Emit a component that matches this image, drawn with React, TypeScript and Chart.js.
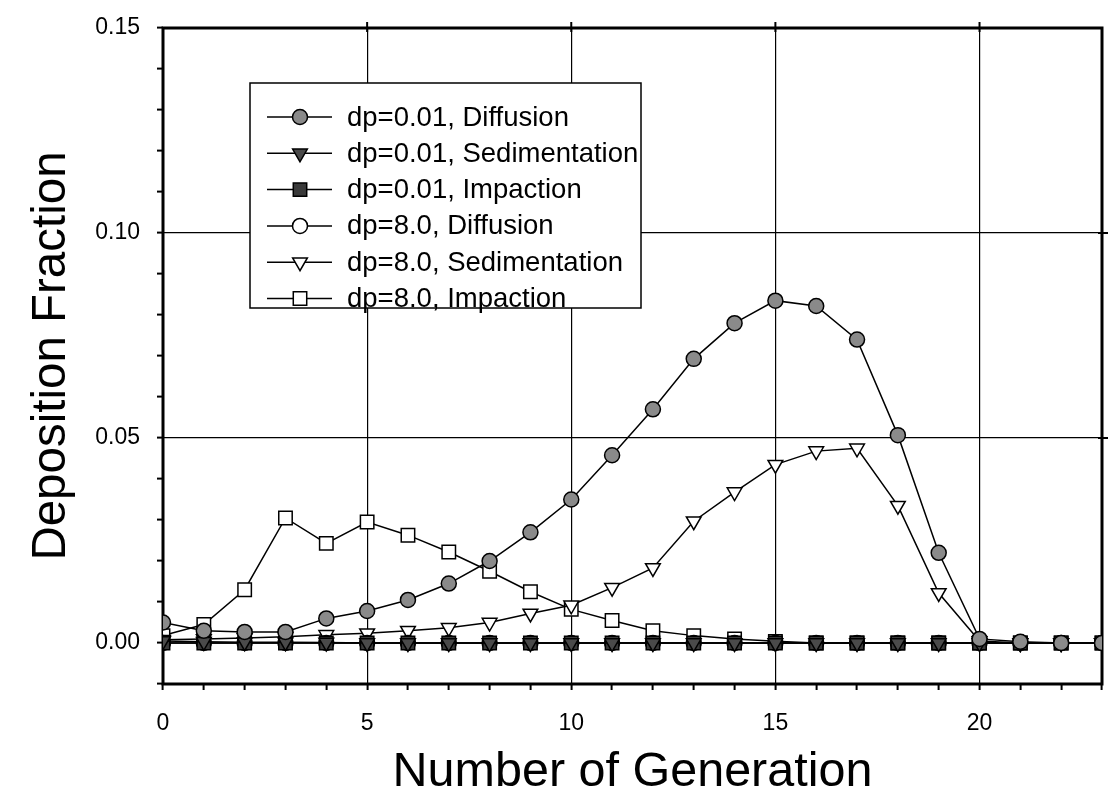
import React, { useEffect, useRef } from 'react';
import { Chart, registerables } from 'chart.js';
import { drawPoint } from 'chart.js/helpers';

Chart.register(...registerables);

const generations = [0, 1, 2, 3, 4, 5, 6, 7, 8, 9, 10, 11, 12, 13, 14, 15, 16, 17, 18, 19, 20, 21, 22, 23];

const diff001 = [0.005, 0.003, 0.0027, 0.0027, 0.006, 0.0078, 0.0105, 0.0145, 0.02, 0.027, 0.035, 0.0458, 0.057, 0.0693, 0.078, 0.0835, 0.0822, 0.074, 0.0507, 0.022, 0.001, 0.0003, 0, 0];
const sed001 = [0.0005, 0.0003, 0.0002, 0.0002, 0.0001, 0, 0, 0, 0, 0, 0, 0, 0, 0, 0, 0, 0, 0, 0, 0, 0, 0, 0, 0];
const imp001 = [0, 0, 0, 0, 0, 0, 0, 0, 0, 0, 0, 0, 0, 0, 0, 0, 0, 0, 0, 0, 0, 0, 0, 0];
const diff80 = [0, 0, 0, 0, 0, 0, 0, 0, 0, 0, 0, 0, 0, 0, 0, 0, 0, 0, 0, 0, 0, 0, 0, 0];
const sed80 = [0.0008, 0.001, 0.0012, 0.0015, 0.002, 0.0024, 0.003, 0.0037, 0.005, 0.0072, 0.0092, 0.0135, 0.0183, 0.0297, 0.0368, 0.0435, 0.0468, 0.0475, 0.0335, 0.0122, 0.0005, 0, 0, 0];
const imp80 = [0.0018, 0.0045, 0.013, 0.0305, 0.0243, 0.0295, 0.0263, 0.0222, 0.0175, 0.0125, 0.0082, 0.0055, 0.003, 0.0018, 0.001, 0.0004, 0, 0, 0, 0, 0, 0, 0, 0];

const seriesLabels = [
  'dp=0.01, Diffusion',
  'dp=0.01, Sedimentation',
  'dp=0.01, Impaction',
  'dp=8.0, Diffusion',
  'dp=8.0, Sedimentation',
  'dp=8.0, Impaction',
];

const yTickLabels = ['0.00', '0.05', '0.10', '0.15'];
const xTickLabels = ['0', '5', '10', '15', '20'];

const FONT = "'Liberation Sans', Arial, Helvetica, sans-serif";

const framePlugin = {
  id: 'frame',
  beforeDatasetsDraw(chart: any) {
    const { ctx, chartArea } = chart;
    const { left, right, top, bottom } = chartArea;
    ctx.save();
    ctx.strokeStyle = '#000';
    ctx.lineWidth = 3;
    ctx.strokeRect(left, top, right - left, bottom - top);
    ctx.lineWidth = 2;
    const xs = chart.scales.x;
    [5, 10, 15, 20].forEach((v) => {
      const px = xs.getPixelForValue(v);
      ctx.beginPath();
      ctx.moveTo(px, top - 6);
      ctx.lineTo(px, top + 4);
      ctx.stroke();
    });
    const ys = chart.scales.y;
    [0.05, 0.1].forEach((v) => {
      const py = ys.getPixelForValue(v);
      ctx.beginPath();
      ctx.moveTo(right - 4, py);
      ctx.lineTo(right + 6, py);
      ctx.stroke();
    });
    ctx.restore();
  },
};

const legendPlugin = {
  id: 'innerLegend',
  afterDraw(chart: any) {
    const { ctx } = chart;
    const bx = 250, by = 83, bw = 391, bh = 225;
    ctx.save();
    ctx.fillStyle = '#fff';
    ctx.fillRect(bx, by, bw, bh);
    ctx.strokeStyle = '#000';
    ctx.lineWidth = 1.5;
    ctx.strokeRect(bx, by, bw, bh);
    chart.data.datasets.forEach((ds: any, i: number) => {
      const y = by + 34 + i * 36.3;
      ctx.strokeStyle = '#000';
      ctx.lineWidth = 1.5;
      ctx.beginPath();
      ctx.moveTo(267, y);
      ctx.lineTo(332, y);
      ctx.stroke();
      ctx.fillStyle = ds.pointBackgroundColor;
      ctx.strokeStyle = '#000';
      ctx.lineWidth = ds.pointBorderWidth;
      drawPoint(ctx, { pointStyle: ds.pointStyle, rotation: ds.pointRotation || 0, radius: ds.pointRadius, borderWidth: ds.pointBorderWidth }, 300, y);
      ctx.fillStyle = '#000';
      ctx.font = `27.5px ${FONT}`;
      ctx.textBaseline = 'middle';
      ctx.textAlign = 'left';
      ctx.fillText(ds.label, 347, y + 1);
    });
    ctx.restore();
  },
};

function isMultiple(v: number, step: number) {
  const r = v / step;
  return Math.abs(r - Math.round(r)) < 1e-6;
}

export default function App() {
  const canvasRef = useRef<HTMLCanvasElement | null>(null);

  useEffect(() => {
    const canvas = canvasRef.current;
    if (!canvas) return;
    const mk = (i: number, data: number[], style: string, fill: string, radius: number, rotation = 0) => ({
      label: seriesLabels[i],
      data: generations.map((g, k) => ({ x: g, y: data[k] })),
      borderColor: '#000',
      borderWidth: 1.5,
      pointStyle: style,
      pointRotation: rotation,
      pointRadius: radius,
      pointBackgroundColor: fill,
      pointBorderColor: '#000',
      pointBorderWidth: 1.5,
      tension: 0,
      fill: false,
    });
    const chart = new Chart(canvas, {
      type: 'line',
      data: {
        datasets: [
          mk(0, diff001, 'circle', '#8a8a8a', 7.5),
          mk(1, sed001, 'triangle', '#4a4a4a', 8.5, 180),
          mk(2, imp001, 'rect', '#3a3a3a', 9.5),
          mk(3, diff80, 'circle', '#ffffff', 7.5),
          mk(4, sed80, 'triangle', '#ffffff', 8.5, 180),
          mk(5, imp80, 'rect', '#ffffff', 9.5),
        ] as any,
      },
      options: {
        animation: false,
        responsive: false,
        maintainAspectRatio: false,
        layout: { padding: { top: 28, right: 12, left: 0, bottom: 0 } },
        plugins: { legend: { display: false }, tooltip: { enabled: false } },
        scales: {
          x: {
            type: 'linear',
            min: 0,
            max: 23,
            afterFit: (s: any) => { s.height = 121; s.paddingRight = 0; s.paddingLeft = 0; },
            border: { display: false },
            grid: {
              color: (c: any) => (c.tick && isMultiple(c.tick.value, 5) && c.tick.value > 0 && c.tick.value < 23 ? '#000' : 'rgba(0,0,0,0)'),
              tickColor: '#000',
              tickLength: 6,
              lineWidth: 1.2,
              tickWidth: 2,
            },
            ticks: {
              stepSize: 1,
              autoSkip: false,
              maxRotation: 0,
              padding: 20,
              color: '#000',
              font: { family: FONT, size: 23 },
              callback: (v: any) => {
                const n = Number(v);
                const s = String(Math.round(n));
                return isMultiple(n, 5) && xTickLabels.includes(s) ? s : '';
              },
            },
            title: {
              display: true,
              text: 'Number of Generation',
              color: '#000',
              font: { family: FONT, size: 48.5 },
              padding: { top: 0, bottom: 3 },
            },
          },
          y: {
            type: 'linear',
            min: -0.01,
            max: 0.15,
            afterFit: (s: any) => { s.width = 163; s.paddingTop = 0; s.paddingBottom = 0; },
            border: { display: false },
            grid: {
              color: (c: any) => (c.tick && isMultiple(c.tick.value, 0.05) && c.tick.value > 0.001 && c.tick.value < 0.149 ? '#000' : 'rgba(0,0,0,0)'),
              tickColor: '#000',
              tickLength: 6,
              lineWidth: 1.2,
              tickWidth: 2,
            },
            ticks: {
              stepSize: 0.01,
              autoSkip: false,
              padding: 17,
              color: '#000',
              font: { family: FONT, size: 23 },
              callback: (v: any) => {
                const n = Number(v);
                if (n < -0.001 || !isMultiple(n, 0.05)) return '';
                const s = n.toFixed(2);
                return yTickLabels.includes(s) ? s : '';
              },
            },
            title: {
              display: true,
              text: 'Deposition Fraction',
              color: '#000',
              font: { family: FONT, size: 47.5 },
              padding: { top: 23, bottom: 0 },
            },
          },
        },
      } as any,
      plugins: [framePlugin, legendPlugin],
    });
    return () => chart.destroy();
  }, []);

  return (
    <div style={{ position: 'absolute', left: 0, top: 0, width: 1114, height: 805, background: '#fff' }}>
      <canvas ref={canvasRef} width={1114} height={805} style={{ display: 'block' }} />
    </div>
  );
}
